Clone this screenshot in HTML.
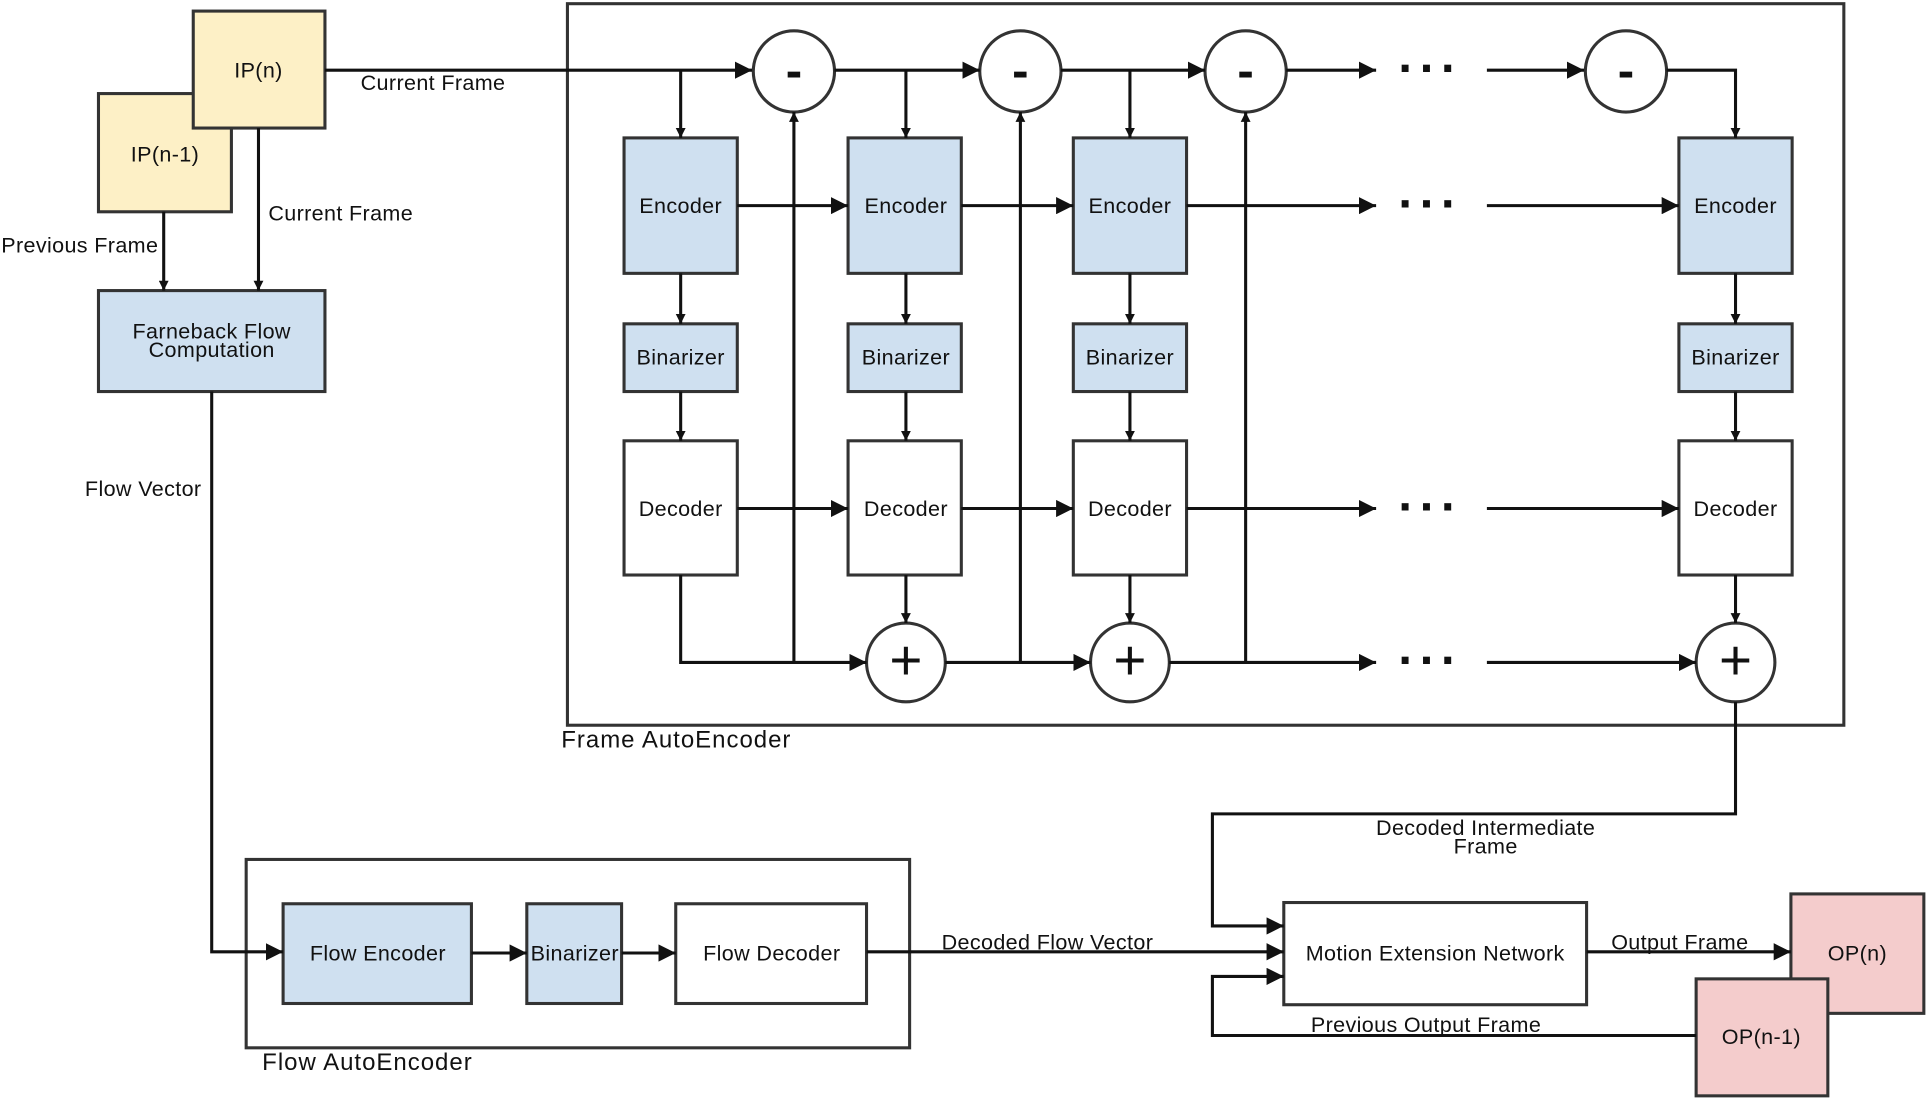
<!DOCTYPE html>
<html><head><meta charset="utf-8"><style>html,body{margin:0;padding:0;background:#fff}svg{display:block}</style></head><body>
<svg width="1930" height="1102" viewBox="0 0 1568 895" preserveAspectRatio="none" xmlns="http://www.w3.org/2000/svg" font-family="Liberation Sans, sans-serif" font-size="17.5" letter-spacing="0.3">
<defs><marker id="a" viewBox="0 0 10 10" refX="10" refY="5" markerWidth="8" markerHeight="8" markerUnits="userSpaceOnUse" orient="auto"><path d="M0,0L10,5L0,10z" fill="#111"/></marker>
<marker id="b" viewBox="0 0 10 10" refX="10" refY="5" markerWidth="14" markerHeight="14" markerUnits="userSpaceOnUse" orient="auto"><path d="M0,0L10,5L0,10z" fill="#111"/></marker></defs>
<g stroke="#333" stroke-width="2.5">
<rect x="461" y="3" width="1037" height="586" fill="none"/>
<rect x="200" y="698" width="539" height="153" fill="none"/>
<rect x="80" y="76" width="108" height="96" fill="#fdf0c6"/>
<rect x="157" y="9" width="107" height="95" fill="#fdf0c6"/>
<rect x="80" y="236" width="184" height="82" fill="#cfe0f0"/>
<rect x="1455" y="726" width="108" height="97" fill="#f4cccc"/>
<rect x="1378" y="795" width="107" height="95" fill="#f4cccc"/>
<rect x="1043" y="733" width="246" height="83" fill="#fff"/>
<rect x="230" y="734" width="153" height="81" fill="#cfe0f0"/>
<rect x="428" y="734" width="77" height="81" fill="#cfe0f0"/>
<rect x="549" y="734" width="155" height="81" fill="#fff"/>
</g>
<g stroke="#333" stroke-width="2.5">
<rect x="507" y="112" width="92" height="110" fill="#cfe0f0"/><rect x="689" y="112" width="92" height="110" fill="#cfe0f0"/><rect x="872" y="112" width="92" height="110" fill="#cfe0f0"/><rect x="1364" y="112" width="92" height="110" fill="#cfe0f0"/>
<rect x="507" y="263" width="92" height="55" fill="#cfe0f0"/><rect x="689" y="263" width="92" height="55" fill="#cfe0f0"/><rect x="872" y="263" width="92" height="55" fill="#cfe0f0"/><rect x="1364" y="263" width="92" height="55" fill="#cfe0f0"/>
<rect x="507" y="358" width="92" height="109" fill="#fff"/><rect x="689" y="358" width="92" height="109" fill="#fff"/><rect x="872" y="358" width="92" height="109" fill="#fff"/><rect x="1364" y="358" width="92" height="109" fill="#fff"/>
<circle cx="645" cy="58" r="33" fill="#fff"/><circle cx="829" cy="58" r="33" fill="#fff"/><circle cx="1012" cy="58" r="33" fill="#fff"/><circle cx="1321" cy="58" r="33" fill="#fff"/>
<circle cx="736" cy="538" r="32" fill="#fff"/><circle cx="918" cy="538" r="32" fill="#fff"/><circle cx="1410" cy="538" r="32" fill="#fff"/>
</g>
<g fill="none" stroke="#111" stroke-width="2.5">
<path d="M264 57H611" marker-end="url(#b)"/><path d="M553 57V112" marker-end="url(#a)"/>
<path d="M678 57H796" marker-end="url(#b)"/><path d="M736 57V112" marker-end="url(#a)"/>
<path d="M862 57H979" marker-end="url(#b)"/><path d="M918 57V112" marker-end="url(#a)"/>
<path d="M1045 57H1118" marker-end="url(#b)"/><path d="M1208 57H1287" marker-end="url(#b)"/>
<path d="M1354 57H1410V112" marker-end="url(#a)"/>
<path d="M599 167H689" marker-end="url(#b)"/><path d="M781 167H872" marker-end="url(#b)"/><path d="M964 167H1118" marker-end="url(#b)"/><path d="M1208 167H1364" marker-end="url(#b)"/>
<path d="M599 413H689" marker-end="url(#b)"/><path d="M781 413H872" marker-end="url(#b)"/><path d="M964 413H1118" marker-end="url(#b)"/><path d="M1208 413H1364" marker-end="url(#b)"/>
<path d="M553 222V263" marker-end="url(#a)"/><path d="M736 222V263" marker-end="url(#a)"/><path d="M918 222V263" marker-end="url(#a)"/><path d="M1410 222V263" marker-end="url(#a)"/>
<path d="M553 318V358" marker-end="url(#a)"/><path d="M736 318V358" marker-end="url(#a)"/><path d="M918 318V358" marker-end="url(#a)"/><path d="M1410 318V358" marker-end="url(#a)"/>
<path d="M736 467V506" marker-end="url(#a)"/><path d="M918 467V506" marker-end="url(#a)"/><path d="M1410 467V506" marker-end="url(#a)"/>
<path d="M553 467V538H704" marker-end="url(#b)"/><path d="M768 538H886" marker-end="url(#b)"/><path d="M950 538H1118" marker-end="url(#b)"/><path d="M1208 538H1378" marker-end="url(#b)"/>
<path d="M645 538V91" marker-end="url(#a)"/><path d="M829 538V91" marker-end="url(#a)"/><path d="M1012 538V91" marker-end="url(#a)"/>
<path d="M1410 570V661H985V752H1043" marker-end="url(#b)"/>
<path d="M1378 841H985V793H1043" marker-end="url(#b)"/>
<path d="M704 773H1043" marker-end="url(#b)"/><path d="M1289 773H1455" marker-end="url(#b)"/>
<path d="M172 318V773H230" marker-end="url(#b)"/><path d="M383 774H428" marker-end="url(#b)"/><path d="M505 774H549" marker-end="url(#b)"/>
<path d="M133 172V236" marker-end="url(#a)"/><path d="M210 104V236" marker-end="url(#a)"/>
</g>
<g fill="#111" font-size="40" font-weight="bold" text-anchor="middle" letter-spacing="4">
<text x="1162" y="69">···</text><text x="1162" y="179">···</text><text x="1162" y="425">···</text><text x="1162" y="550">···</text>
</g>
<g fill="#111" font-size="40" font-weight="bold" text-anchor="middle" letter-spacing="0"><text x="645" y="71">-</text><text x="829" y="71">-</text><text x="1012" y="71">-</text><text x="1321" y="71">-</text>
<text x="736" y="552" font-size="46" font-weight="normal">+</text><text x="918" y="552" font-size="46" font-weight="normal">+</text><text x="1410" y="552" font-size="46" font-weight="normal">+</text></g>
<g fill="#111" text-anchor="middle">
<text x="210" y="63">IP(n)</text><text x="134" y="131">IP(n-1)</text>
<text x="172" y="275">Farneback Flow</text><text x="172" y="290">Computation</text>
<text x="553" y="173">Encoder</text><text x="736" y="173">Encoder</text><text x="918" y="173">Encoder</text><text x="1410" y="173">Encoder</text>
<text x="553" y="296">Binarizer</text><text x="736" y="296">Binarizer</text><text x="918" y="296">Binarizer</text><text x="1410" y="296">Binarizer</text>
<text x="553" y="419">Decoder</text><text x="736" y="419">Decoder</text><text x="918" y="419">Decoder</text><text x="1410" y="419">Decoder</text>
<text x="307" y="780">Flow Encoder</text><text x="467" y="780">Binarizer</text><text x="627" y="780">Flow Decoder</text>
<text x="1166" y="780">Motion Extension Network</text>
<text x="1509" y="780">OP(n)</text><text x="1431" y="848">OP(n-1)</text>
<text x="1207" y="678">Decoded Intermediate</text><text x="1207" y="693">Frame</text>
</g>
<g fill="#111">
<text x="293" y="73">Current Frame</text><text x="218" y="179">Current Frame</text><text x="1" y="205">Previous Frame</text>
<text x="69" y="403">Flow Vector</text><text x="765" y="771">Decoded Flow Vector</text><text x="1309" y="771">Output Frame</text>
<text x="1065" y="838">Previous Output Frame</text>
<text x="456" y="607" font-size="19.5" letter-spacing="0.8">Frame AutoEncoder</text><text x="213" y="869" font-size="19.5" letter-spacing="0.8">Flow AutoEncoder</text>
</g>
</svg>
</body></html>
